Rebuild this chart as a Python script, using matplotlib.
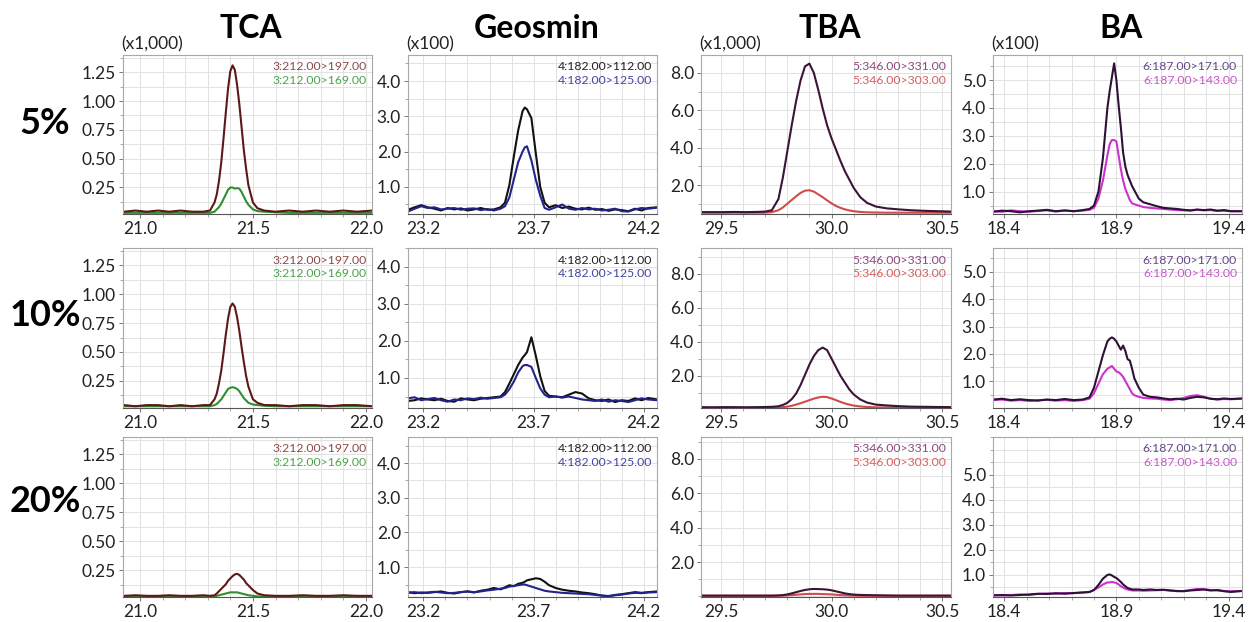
import matplotlib.pyplot as plt
from matplotlib.ticker import MultipleLocator, FixedLocator

plt.rcParams['font.family'] = ['Lato', 'DejaVu Sans']

compounds = ["TCA", "Geosmin", "TBA", "BA"]
levels = ["5%", "10%", "20%"]
multipliers = ["(x1,000)", "(x100)", "(x1,000)", "(x100)"]
transitions = [
    ["3:212.00>197.00", "3:212.00>169.00"],
    ["4:182.00>112.00", "4:182.00>125.00"],
    ["5:346.00>331.00", "5:346.00>303.00"],
    ["6:187.00>171.00", "6:187.00>143.00"],
]
x_ticks = [[21.0, 21.5, 22.0], [23.2, 23.7, 24.2], [29.5, 30.0, 30.5], [18.4, 18.9, 19.4]]
y_ticks = [[0.25, 0.50, 0.75, 1.00, 1.25], [1.0, 2.0, 3.0, 4.0],
           [2.0, 4.0, 6.0, 8.0], [1.0, 2.0, 3.0, 4.0, 5.0]]

# retention time grids (min)
t_tca = [20.93, 20.98, 21.03, 21.08, 21.13, 21.18, 21.23, 21.28, 21.31, 21.33, 21.34, 21.35,
         21.36, 21.37, 21.38, 21.39, 21.40, 21.41, 21.42, 21.43, 21.44, 21.45, 21.46, 21.47,
         21.48, 21.50, 21.52, 21.55, 21.60, 21.66, 21.72, 21.78, 21.84, 21.90, 21.96, 22.03]
t_geo = [23.13, 23.16, 23.19, 23.22, 23.25, 23.28, 23.31, 23.34, 23.37, 23.40, 23.43, 23.46,
         23.49, 23.52, 23.55, 23.57, 23.59, 23.61, 23.63, 23.65, 23.66, 23.67, 23.69, 23.71,
         23.73, 23.75, 23.77, 23.80, 23.83, 23.86, 23.89, 23.92, 23.95, 23.98, 24.01, 24.04,
         24.07, 24.10, 24.13, 24.16, 24.19, 24.22, 24.26]
t_tba = [29.41, 29.46, 29.51, 29.56, 29.61, 29.66, 29.70, 29.73, 29.76, 29.78, 29.80, 29.82,
         29.84, 29.86, 29.88, 29.90, 29.92, 29.94, 29.96, 29.98, 30.00, 30.02, 30.04, 30.06,
         30.08, 30.10, 30.13, 30.16, 30.20, 30.25, 30.30, 30.36, 30.42, 30.48, 30.54]
t_ba = [18.35, 18.39, 18.43, 18.47, 18.51, 18.55, 18.59, 18.63, 18.67, 18.71, 18.75, 18.78,
        18.80, 18.82, 18.84, 18.86, 18.87, 18.88, 18.89, 18.90, 18.91, 18.92, 18.93, 18.94,
        18.95, 18.96, 18.97, 18.98, 19.00, 19.02, 19.05, 19.08, 19.11, 19.14, 19.17, 19.20,
        19.23, 19.26, 19.29, 19.32, 19.35, 19.38, 19.41, 19.46]

# TCA intensities (x1,000)
tca_197_5 = [0.04, 0.05, 0.04, 0.05, 0.04, 0.05, 0.04, 0.04, 0.05, 0.12, 0.19, 0.31, 0.47, 0.68,
             0.90, 1.11, 1.26, 1.31, 1.27, 1.14, 0.97, 0.77, 0.57, 0.41, 0.27, 0.12, 0.07, 0.05,
             0.04, 0.05, 0.04, 0.05, 0.04, 0.05, 0.04, 0.05]
tca_169_5 = [0.03, 0.03, 0.03, 0.03, 0.03, 0.03, 0.03, 0.03, 0.03, 0.04, 0.06, 0.08, 0.11, 0.15,
             0.19, 0.23, 0.25, 0.25, 0.24, 0.245, 0.24, 0.21, 0.17, 0.13, 0.10, 0.06, 0.045, 0.04,
             0.035, 0.03, 0.03, 0.03, 0.03, 0.03, 0.03, 0.03]
tca_197_10 = [0.04, 0.03, 0.04, 0.04, 0.03, 0.04, 0.03, 0.04, 0.04, 0.09, 0.14, 0.23, 0.34, 0.49,
              0.65, 0.79, 0.89, 0.92, 0.89, 0.80, 0.68, 0.54, 0.41, 0.29, 0.20, 0.09, 0.06, 0.04,
              0.04, 0.03, 0.04, 0.04, 0.03, 0.04, 0.04, 0.03]
tca_169_10 = [0.03, 0.03, 0.03, 0.03, 0.03, 0.03, 0.03, 0.03, 0.03, 0.04, 0.05, 0.07, 0.09, 0.12,
              0.15, 0.18, 0.19, 0.195, 0.19, 0.18, 0.16, 0.13, 0.10, 0.08, 0.06, 0.045, 0.04,
              0.035, 0.03, 0.03, 0.03, 0.03, 0.03, 0.03, 0.03, 0.03]
tca_197_20 = [0.03, 0.035, 0.03, 0.03, 0.035, 0.03, 0.03, 0.035, 0.03, 0.035, 0.05, 0.07, 0.09,
              0.11, 0.13, 0.16, 0.18, 0.20, 0.215, 0.22, 0.21, 0.19, 0.17, 0.14, 0.12, 0.08, 0.05,
              0.035, 0.03, 0.03, 0.035, 0.03, 0.03, 0.035, 0.03, 0.03]
tca_169_20 = [0.025, 0.025, 0.025, 0.025, 0.025, 0.025, 0.025, 0.025, 0.025, 0.025, 0.03, 0.035,
              0.04, 0.045, 0.05, 0.055, 0.06, 0.06, 0.06, 0.06, 0.055, 0.05, 0.045, 0.04, 0.035,
              0.03, 0.025, 0.025, 0.025, 0.025, 0.025, 0.025, 0.025, 0.025, 0.025, 0.025]

# Geosmin intensities (x100)
geo_112_5 = [0.35, 0.42, 0.48, 0.42, 0.38, 0.33, 0.40, 0.36, 0.39, 0.33, 0.36, 0.40, 0.35, 0.36,
             0.42, 0.55, 1.05, 1.85, 2.60, 3.15, 3.25, 3.20, 2.95, 1.95, 1.00, 0.55, 0.42, 0.48,
             0.40, 0.44, 0.38, 0.36, 0.41, 0.35, 0.37, 0.32, 0.36, 0.34, 0.31, 0.38, 0.33, 0.40, 0.42]
geo_125_5 = [0.30, 0.38, 0.45, 0.40, 0.42, 0.36, 0.38, 0.40, 0.35, 0.38, 0.39, 0.34, 0.37, 0.33,
             0.38, 0.45, 0.70, 1.20, 1.70, 2.00, 2.12, 2.15, 1.75, 1.20, 0.75, 0.40, 0.35, 0.42,
             0.50, 0.38, 0.35, 0.40, 0.36, 0.38, 0.33, 0.35, 0.38, 0.31, 0.30, 0.36, 0.40, 0.38, 0.41]
geo_112_10 = [0.38, 0.40, 0.45, 0.42, 0.40, 0.44, 0.38, 0.36, 0.45, 0.42, 0.40, 0.44, 0.46, 0.48,
              0.50, 0.62, 0.85, 1.10, 1.35, 1.55, 1.62, 1.70, 2.10, 1.60, 1.05, 0.65, 0.52, 0.50,
              0.48, 0.55, 0.62, 0.58, 0.45, 0.40, 0.38, 0.42, 0.35, 0.40, 0.38, 0.45, 0.40, 0.46, 0.42]
geo_125_10 = [0.45, 0.48, 0.40, 0.43, 0.46, 0.40, 0.36, 0.42, 0.40, 0.45, 0.43, 0.47, 0.44, 0.46,
              0.48, 0.55, 0.70, 0.90, 1.15, 1.32, 1.35, 1.35, 1.30, 1.00, 0.72, 0.55, 0.48, 0.50,
              0.47, 0.50, 0.46, 0.42, 0.40, 0.38, 0.42, 0.36, 0.40, 0.38, 0.35, 0.40, 0.45, 0.42, 0.40]
geo_112_20 = [0.28, 0.25, 0.27, 0.26, 0.28, 0.30, 0.26, 0.24, 0.28, 0.30, 0.27, 0.32, 0.35, 0.40,
              0.36, 0.42, 0.48, 0.45, 0.52, 0.55, 0.58, 0.62, 0.65, 0.68, 0.66, 0.58, 0.48, 0.40,
              0.35, 0.32, 0.30, 0.27, 0.25, 0.22, 0.18, 0.16, 0.20, 0.22, 0.25, 0.28, 0.26, 0.28, 0.30]
geo_125_20 = [0.26, 0.28, 0.25, 0.27, 0.29, 0.27, 0.25, 0.26, 0.28, 0.30, 0.28, 0.30, 0.33, 0.35,
              0.38, 0.40, 0.44, 0.46, 0.48, 0.50, 0.50, 0.48, 0.44, 0.40, 0.36, 0.32, 0.30, 0.28,
              0.26, 0.25, 0.24, 0.23, 0.22, 0.20, 0.18, 0.17, 0.19, 0.21, 0.24, 0.26, 0.25, 0.27, 0.28]

# TBA intensities (x1,000)
tba_331_5 = [0.55, 0.55, 0.55, 0.56, 0.55, 0.56, 0.58, 0.65, 1.25, 2.40, 3.80, 5.20, 6.50, 7.60,
             8.35, 8.50, 8.00, 7.10, 6.10, 5.20, 4.50, 3.90, 3.30, 2.75, 2.30, 1.85, 1.35, 1.05,
             0.85, 0.75, 0.70, 0.65, 0.62, 0.60, 0.58]
tba_303_5 = [0.52, 0.52, 0.52, 0.52, 0.52, 0.52, 0.52, 0.55, 0.65, 0.80, 1.00, 1.20, 1.40, 1.58,
             1.70, 1.72, 1.65, 1.50, 1.35, 1.18, 1.02, 0.88, 0.78, 0.70, 0.64, 0.60, 0.56, 0.54,
             0.53, 0.52, 0.52, 0.52, 0.52, 0.52, 0.52]
tba_331_10 = [0.15, 0.14, 0.15, 0.15, 0.14, 0.15, 0.16, 0.17, 0.20, 0.28, 0.40, 0.62, 0.95, 1.45,
              2.05, 2.65, 3.15, 3.50, 3.65, 3.50, 3.00, 2.50, 2.00, 1.60, 1.20, 0.90, 0.60, 0.42,
              0.30, 0.25, 0.21, 0.18, 0.17, 0.16, 0.15]
tba_303_10 = [0.12, 0.12, 0.12, 0.12, 0.12, 0.12, 0.12, 0.12, 0.13, 0.15, 0.18, 0.23, 0.30, 0.38,
              0.47, 0.56, 0.65, 0.72, 0.76, 0.74, 0.66, 0.56, 0.46, 0.37, 0.30, 0.24, 0.19, 0.16,
              0.14, 0.13, 0.12, 0.12, 0.12, 0.12, 0.12]
tba_331_20 = [0.05, 0.05, 0.05, 0.05, 0.05, 0.05, 0.05, 0.05, 0.06, 0.08, 0.12, 0.18, 0.25, 0.32,
              0.38, 0.42, 0.44, 0.43, 0.42, 0.40, 0.36, 0.30, 0.24, 0.18, 0.14, 0.11, 0.09, 0.08,
              0.07, 0.06, 0.05, 0.05, 0.05, 0.05, 0.05]
tba_303_20 = [0.04, 0.04, 0.04, 0.04, 0.04, 0.04, 0.04, 0.04, 0.045, 0.05, 0.06, 0.08, 0.10, 0.12,
              0.14, 0.15, 0.15, 0.15, 0.14, 0.13, 0.12, 0.10, 0.08, 0.07, 0.06, 0.05, 0.04, 0.04,
              0.04, 0.04, 0.04, 0.04, 0.04, 0.04, 0.04]

# BA intensities (x100)
ba_171_5 = [0.28, 0.32, 0.30, 0.26, 0.30, 0.32, 0.35, 0.30, 0.33, 0.30, 0.34, 0.38, 0.50, 1.00,
            2.20, 4.00, 4.60, 5.10, 5.60, 5.00, 4.10, 3.30, 2.40, 1.90, 1.60, 1.40, 1.20, 1.05,
            0.75, 0.62, 0.55, 0.48, 0.42, 0.40, 0.38, 0.35, 0.33, 0.36, 0.34, 0.36, 0.32, 0.34,
            0.30, 0.30]
ba_143_5 = [0.30, 0.28, 0.33, 0.30, 0.28, 0.31, 0.33, 0.29, 0.32, 0.30, 0.32, 0.35, 0.42, 0.75,
            1.40, 2.30, 2.70, 2.85, 2.85, 2.80, 2.30, 1.80, 1.40, 1.10, 0.90, 0.70, 0.58, 0.55,
            0.50, 0.45, 0.42, 0.40, 0.38, 0.36, 0.34, 0.33, 0.32, 0.35, 0.33, 0.34, 0.31, 0.32,
            0.30, 0.30]
ba_171_10 = [0.32, 0.35, 0.30, 0.33, 0.30, 0.28, 0.32, 0.30, 0.34, 0.30, 0.32, 0.40, 0.75, 1.35,
             1.95, 2.45, 2.55, 2.60, 2.55, 2.45, 2.30, 2.15, 2.30, 2.10, 1.80, 1.75, 1.45, 1.10,
             0.75, 0.50, 0.42, 0.40, 0.36, 0.33, 0.35, 0.32, 0.38, 0.42, 0.40, 0.35, 0.33, 0.36,
             0.34, 0.36]
ba_143_10 = [0.30, 0.32, 0.28, 0.30, 0.27, 0.30, 0.31, 0.28, 0.30, 0.27, 0.30, 0.35, 0.55, 0.90,
             1.25, 1.45, 1.50, 1.55, 1.45, 1.35, 1.32, 1.25, 1.15, 1.00, 0.85, 0.70, 0.55, 0.48,
             0.42, 0.38, 0.36, 0.35, 0.32, 0.30, 0.33, 0.38, 0.45, 0.48, 0.42, 0.35, 0.32, 0.34,
             0.33, 0.35]
ba_171_20 = [0.18, 0.20, 0.18, 0.20, 0.22, 0.25, 0.24, 0.27, 0.25, 0.28, 0.30, 0.32, 0.40, 0.60,
             0.85, 1.00, 1.02, 0.98, 0.92, 0.88, 0.80, 0.72, 0.62, 0.55, 0.48, 0.45, 0.42, 0.42,
             0.42, 0.40, 0.42, 0.40, 0.41, 0.38, 0.36, 0.35, 0.38, 0.40, 0.42, 0.38, 0.40, 0.35,
             0.32, 0.36]
ba_143_20 = [0.20, 0.18, 0.20, 0.22, 0.20, 0.24, 0.26, 0.25, 0.28, 0.27, 0.30, 0.32, 0.40, 0.50,
             0.62, 0.70, 0.70, 0.72, 0.70, 0.68, 0.62, 0.55, 0.50, 0.45, 0.42, 0.40, 0.38, 0.38,
             0.38, 0.37, 0.38, 0.39, 0.40, 0.38, 0.35, 0.36, 0.40, 0.44, 0.43, 0.40, 0.38, 0.36,
             0.35, 0.36]

times = [t_tca, t_geo, t_tba, t_ba]
traces = [
    [[tca_197_5, tca_169_5], [tca_197_10, tca_169_10], [tca_197_20, tca_169_20]],
    [[geo_112_5, geo_125_5], [geo_112_10, geo_125_10], [geo_112_20, geo_125_20]],
    [[tba_331_5, tba_303_5], [tba_331_10, tba_303_10], [tba_331_20, tba_303_20]],
    [[ba_171_5, ba_143_5], [ba_171_10, ba_143_10], [ba_171_20, ba_143_20]],
]

# styling / layout
line_colors = [["#5e1818", "#2f8f2f"], ["#111111", "#23238c"],
               ["#3b1436", "#d24a4a"], ["#2d1238", "#cc33cc"]]
text_colors = [["#8c4a4a", "#4aa54a"], ["#222222", "#4545a5"],
               ["#8a4a7c", "#d46060"], ["#66488a", "#cc55cc"]]
top_line = [0, 1, 0, 0]  # which trace is drawn on top
xlims = [(20.925, 22.027), (23.13, 24.26), (29.41, 30.54), (18.35, 19.46)]
ylims = [[(0.02, 1.40), (0.015, 1.40), (0.02, 1.40)],
         [(0.23, 4.74), (0.19, 4.51), (0.14, 4.75)],
         [(0.45, 8.96), (0.10, 9.50), (-0.03, 9.28)],
         [(0.20, 5.90), (0.01, 5.88), (0.12, 6.50)]]
y_fmt = ["{:.2f}", "{:.1f}", "{:.1f}", "{:.1f}"]
col_px = [(123, 372), (408, 657), (701, 951), (993, 1242)]
row_px = [(55, 214), (248, 408), (437, 597)]
W, H = 1252, 622

fig = plt.figure(figsize=(W / 100, H / 100), dpi=100)

for c in range(4):
    for r in range(3):
        x0, x1 = col_px[c]
        y0, y1 = row_px[r]
        ax = fig.add_axes([x0 / W, 1 - y1 / H, (x1 - x0) / W, (y1 - y0) / H])
        order = [1 - top_line[c], top_line[c]]
        for k in order:
            ax.plot(times[c], traces[c][r][k], color=line_colors[c][k], lw=1.5,
                    solid_joinstyle="round")
        ax.set_xlim(*xlims[c])
        ax.set_ylim(*ylims[c][r])
        ax.xaxis.set_major_locator(FixedLocator(x_ticks[c]))
        ax.xaxis.set_minor_locator(MultipleLocator(0.1))
        ax.yaxis.set_major_locator(FixedLocator(y_ticks[c]))
        step = y_ticks[c][1] - y_ticks[c][0]
        ax.yaxis.set_minor_locator(MultipleLocator(step / 2))
        ax.set_xticklabels(["{:.1f}".format(v) for v in x_ticks[c]])
        ax.set_yticklabels([y_fmt[c].format(v) for v in y_ticks[c]])
        ax.grid(which="both", color="#e2e2e2", lw=0.7)
        ax.set_axisbelow(True)
        ax.tick_params(which="major", length=3, width=0.7, color="#777777",
                       labelsize=12.5, pad=2, labelcolor="#222222")
        ax.tick_params(which="minor", length=2, width=0.6, color="#999999")
        for s in ax.spines.values():
            s.set_color("#a8a8a8")
            s.set_linewidth(0.8)
        ax.spines["bottom"].set_color("#555555")
        ax.text(0.98, 0.925, transitions[c][0], transform=ax.transAxes, ha="right",
                va="center", fontsize=8.8, color=text_colors[c][0])
        ax.text(0.98, 0.84, transitions[c][1], transform=ax.transAxes, ha="right",
                va="center", fontsize=8.8, color=text_colors[c][1])

    # column title and multiplier
    x0, x1 = col_px[c]
    fig.text((x0 + x1) / 2 / W + 0.003, 1 - 28 / H, compounds[c], ha="center", va="center",
             fontsize=23, fontweight="bold")
    fig.text((x0 - 2) / W, 1 - 44 / H, multipliers[c], ha="left", va="center",
             fontsize=12.5, color="#222222")

row_label_y = [123, 316, 502]
for r in range(3):
    fig.text(45 / W, 1 - row_label_y[r] / H, levels[r], ha="center", va="center",
             fontsize=26, fontweight="bold")

fig.savefig("out.png", dpi=100)
